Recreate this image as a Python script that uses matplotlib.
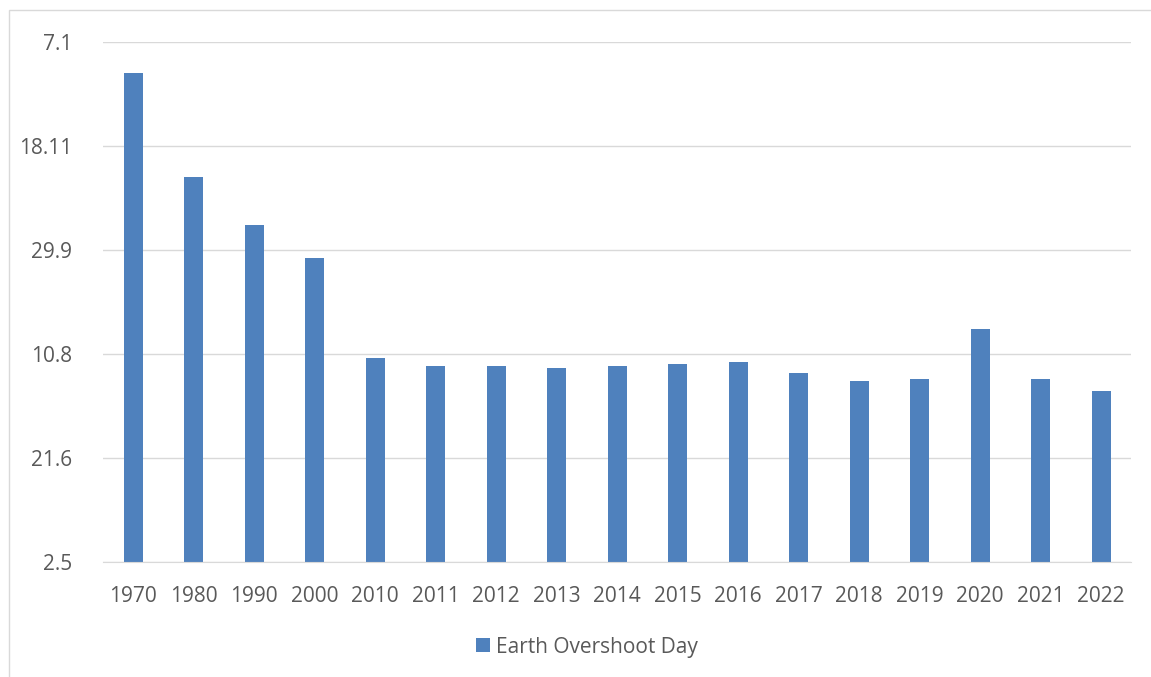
import matplotlib.pyplot as plt
from matplotlib.patches import Rectangle

# Earth Overshoot Day, stored as day of year (Jan 7 of next year = 372)
anos = ['1970', '1980', '1990', '2000', '2010', '2011', '2012', '2013', '2014',
        '2015', '2016', '2017', '2018', '2019', '2020', '2021', '2022']
dias = [357, 307, 284, 268, 220, 216, 216, 215, 216,
        217, 218, 213, 209, 210, 234, 210, 204]

# eixo y: dias com rótulos no formato d.m
ticks_y = [122, 172, 222, 272, 322, 372]
rotulos_y = ['2.5', '21.6', '10.8', '29.9', '18.11', '7.1']

cinza_txt = '#595959'
cinza_linha = '#D9D9D9'
azul = '#4F81BD'

plt.rcParams['font.family'] = ['Open Sans', 'DejaVu Sans']

fig = plt.figure(figsize=(11.51, 6.77), dpi=100)
ax = fig.add_axes([0.0895, 0.170, 0.8935, 0.768])

# moldura do gráfico
fig.patches.append(Rectangle((9 / 1151, -0.1), 1.2, 1.1 - 10 / 677,
                             transform=fig.transFigure, fill=False,
                             edgecolor=cinza_linha, linewidth=1))

x = range(len(anos))
ax.bar(x, dias, width=0.32, color=azul, label='Earth Overshoot Day', zorder=3)

ax.set_xlim(-0.5, len(anos) - 0.5)
ax.set_ylim(122, 372)
ax.set_yticks(ticks_y)
ax.set_yticklabels(rotulos_y)
ax.set_xticks(list(x))
ax.set_xticklabels(anos)

ax.grid(axis='y', color=cinza_linha, linewidth=1, zorder=0)
for s in ['top', 'right', 'left']:
    ax.spines[s].set_visible(False)
ax.spines['bottom'].set_color(cinza_linha)
ax.spines['bottom'].set_zorder(4)
ax.tick_params(axis='both', length=0, labelsize=15, colors=cinza_txt)
ax.tick_params(axis='y', pad=22)
ax.tick_params(axis='x', pad=17)

fig.legend(loc='center', bbox_to_anchor=(0.510, 1 - 647 / 677), frameon=False,
           fontsize=15, labelcolor=cinza_txt, handlelength=0.65, handleheight=0.65,
           handletextpad=0.3)

fig.savefig('out.png', dpi=100)
